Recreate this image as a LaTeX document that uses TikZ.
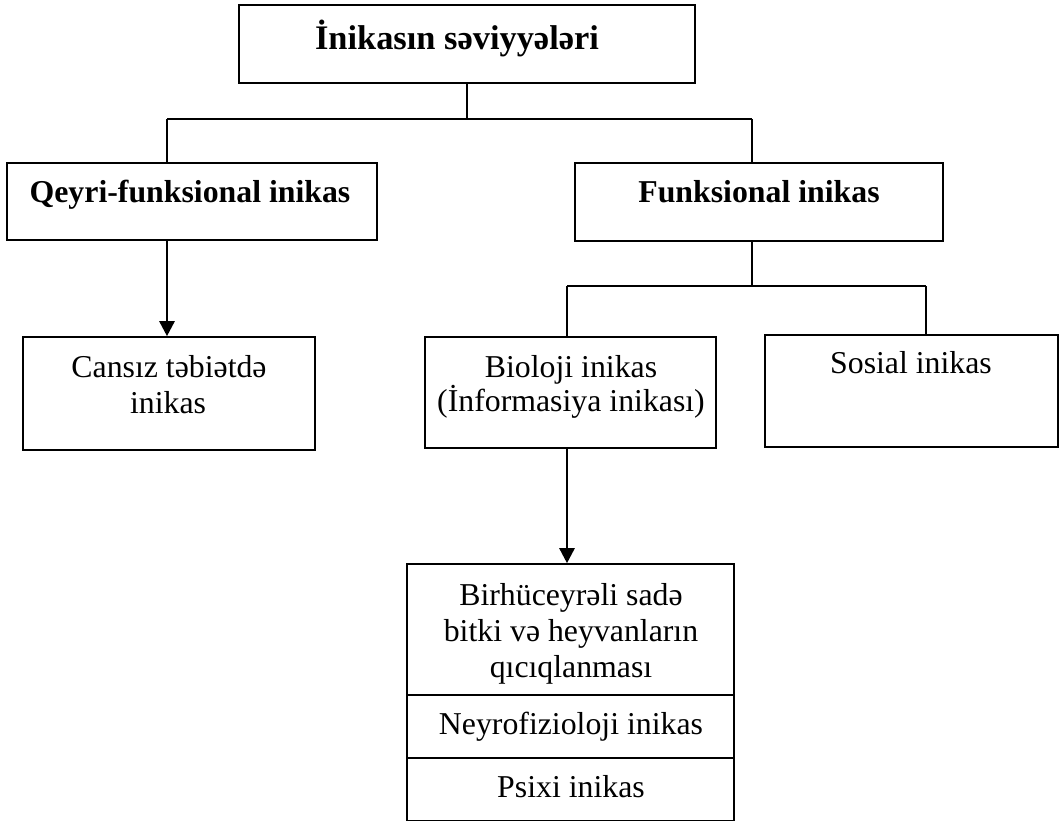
\documentclass[tikz,border=0pt]{standalone}
\usepackage{fontspec}
\setmainfont{Liberation Serif}
\usetikzlibrary{arrows.meta}
\tikzset{
  box/.style={draw, line width=1.6pt, inner sep=0pt, rectangle},
  txt/.style={anchor=base, inner sep=0pt, font=\fontsize{31.8}{36}\selectfont},
  btxt/.style={txt, font=\fontsize{31.8}{36}\selectfont\bfseries},
  conn/.style={line width=1.6pt},
  arr/.style={line width=2.6pt, -{Triangle[width=15pt,length=15pt]}},
}
\begin{document}
\begin{tikzpicture}[x=1pt,y=-1pt]
\useasboundingbox (0,0) rectangle (1062,821);
% boxes
\node[box, minimum width=456pt, minimum height=78pt] (top) at (467,44) {};
\node[box, minimum width=370pt, minimum height=77pt] (qeyri) at (192,201.5) {};
\node[box, minimum width=368pt, minimum height=78pt] (funk) at (759,202) {};
\node[box, minimum width=292pt, minimum height=113pt] (cansiz) at (169,393.5) {};
\node[box, minimum width=291pt, minimum height=111pt] (bio) at (570.5,392.5) {};
\node[box, minimum width=293pt, minimum height=112pt] (sosial) at (911.5,391) {};
\node[box, minimum width=327pt, minimum height=131pt] (s1) at (570.5,629.5) {};
\node[box, minimum width=327pt, minimum height=63pt] (s2) at (570.5,726.5) {};
\node[box, minimum width=327pt, minimum height=63pt] (s3) at (570.5,789.5) {};
% texts
\node[btxt, font=\fontsize{34.4}{38}\selectfont\bfseries] (ttop) at (457,50) {İnikasın səviyyələri};
\node[btxt] (tqeyri) at (190,203) {Qeyri-funksional inikas};
\node[btxt] (tfunk) at (759,203) {Funksional inikas};
\node[txt] (tc1) at (169,377) {Cansız təbiətdə};
\node[txt] (tc2) at (168,413) {inikas};
\node[txt] (tb1) at (571,377) {Bioloji inikas};
\node[txt] (tb2) at (571,411) {(İnformasiya inikası)};
\node[txt] (tsos) at (911,373) {Sosial inikas};
\node[txt] (ts1a) at (571,605) {Birhüceyrəli sadə};
\node[txt] (ts1b) at (571,641) {bitki və heyvanların};
\node[txt] (ts1c) at (571,677) {qıcıqlanması};
\node[txt] (ts2) at (571,734) {Neyrofizioloji inikas};
\node[txt] (ts3) at (571,797) {Psixi inikas};
% connectors
\coordinate (jL) at (167,119);
\coordinate (jR) at (752,119);
\coordinate (kL) at (567,286);
\coordinate (kR) at (926,286);
\draw[conn] (top.south) -- (top.south |- jL);
\draw[conn] (jL) -- (jR);
\draw[conn] (jL) -- (jL |- qeyri.north);
\draw[conn] (jR) -- (jR |- funk.north);
\draw[arr] (jL |- qeyri.south) -- (jL |- cansiz.north);
\draw[conn] (jR |- funk.south) -- (jR |- kL);
\draw[conn] (kL) -- (kR);
\draw[conn] (kL) -- (kL |- bio.north);
\draw[conn] (kR) -- (kR |- sosial.north);
\draw[arr] (kL |- bio.south) -- (kL |- s1.north);
\end{tikzpicture}
\end{document}
